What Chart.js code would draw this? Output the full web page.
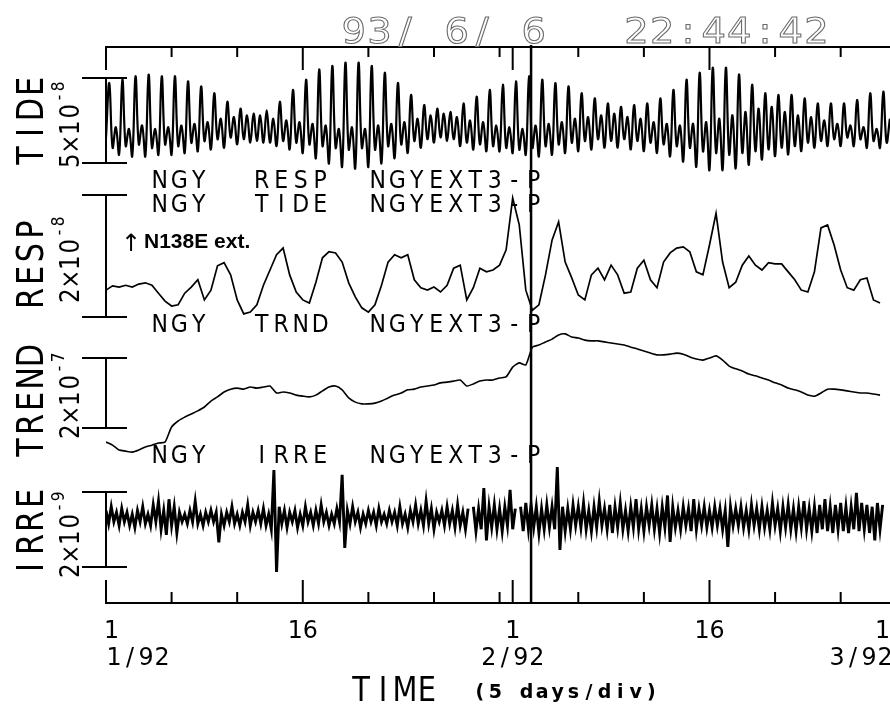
<!DOCTYPE html>
<html>
<head>
<meta charset="utf-8">
<script src="https://cdn.jsdelivr.net/npm/chart.js@4.4.1/dist/chart.umd.min.js"></script>
<style>
html, body { margin: 0; padding: 0; background: #fff; overflow: hidden; }
canvas { display: block; }
</style>
</head>
<body>
<canvas id="miGrafico" width="890" height="709"></canvas>
<script>
// tiempo en dias desde 1/1/92, 5 dias por division
const tideStep = 0.25;
const tide = [
 1.5,4.7,0.9,2.1, 0.5,4.9,1.0,2.0, 0.4,5.1,1.1,2.2, 0.4,5.2,0.9,2.0, 0.5,5.1,1.1,2.1,
 0.5,5.1,1.0,2.2, 0.6,4.8,1.2,2.3, 0.7,4.5,1.3,2.4, 0.8,4.1,1.4,2.6, 0.9,3.6,1.5,2.7,
 1.1,3.2,1.4,2.8, 1.2,2.9,1.3,2.8, 1.2,3.1,1.2,2.6, 1.0,3.6,1.3,2.5, 0.8,4.3,1.2,2.4,
 0.6,4.9,1.1,2.3, 0.3,5.5,1.0,2.2, 0.0,5.7,0.9,2.0, -0.2,5.9,0.8,2.1, -0.3,5.9,0.9,2.0,
 -0.2,5.7,0.8,2.2, 0.0,5.3,1.0,2.3, 0.3,4.7,1.1,2.4, 0.6,4.0,1.3,2.6, 0.9,3.4,1.4,2.8,
 1.2,3.2,1.5,2.9, 1.3,3.0,1.4,2.7, 1.0,3.5,1.2,2.5, 0.8,3.9,1.1,2.4, 0.7,4.3,1.0,2.2,
 0.7,4.6,0.9,2.1, 0.6,4.8,0.8,2.0, 0.5,5.1,0.9,2.2, 0.4,4.9,1.0,2.3, 0.5,4.7,1.1,2.4,
 0.6,4.5,1.2,2.6, 0.7,4.1,1.3,2.7, 0.8,3.8,1.4,2.8, 0.9,3.5,1.3,2.9, 0.9,3.3,1.4,2.7,
 0.8,3.4,1.3,2.6, 0.7,3.5,1.2,2.4, 0.6,3.8,1.1,2.3, 0.4,4.3,1.0,2.2, 0.1,4.9,0.9,2.3,
 -0.2,5.3,0.7,2.4, -0.4,5.6,0.6,2.6, -0.4,5.6,0.5,2.8, -0.3,5.2,0.6,3.0, -0.1,4.6,0.7,3.2,
 0.2,4.1,0.8,3.3, 0.4,4.0,0.9,3.0, 0.5,4.0,1.0,2.8, 0.7,3.8,1.2,2.7, 0.9,3.5,1.3,2.5,
 1.0,3.5,1.4,2.3, 1.0,3.5,1.5,2.2, 1.0,3.7,1.4,2.1, 0.9,4.1,1.3,2.0, 0.9,4.2,1.2,2.6
];

const respStep = 0.5;
const resp = [
 0.44,0.51,0.49,0.52,0.49,0.54,0.56,0.52,0.39,0.26,
 0.18,0.20,0.39,0.49,0.61,0.28,0.44,0.84,0.89,0.69,
 0.28,0.05,0.08,0.20,0.52,0.77,1.02,1.13,0.69,0.41,
 0.28,0.23,0.57,0.97,1.07,1.05,0.90,0.56,0.33,0.15,
 0.08,0.20,0.52,0.90,1.02,0.97,1.02,0.61,0.48,0.44,
 0.49,0.41,0.52,0.80,0.85,0.28,0.48,0.80,0.74,0.77,
 0.85,1.10,1.95,1.51,0.44,0.11,0.20,0.69,1.26,1.56,
 0.90,0.64,0.36,0.28,0.69,0.80,0.61,0.85,0.69,0.39,
 0.41,0.80,0.93,0.61,0.48,0.90,1.05,1.13,1.15,1.07,
 0.74,0.69,1.18,1.70,0.90,0.48,0.57,0.85,1.00,0.85,
 0.77,0.89,0.87,0.87,0.74,0.61,0.44,0.41,0.74,1.46,
 1.51,1.18,0.77,0.48,0.44,0.61,0.64,0.28,0.23,null
];

const trendStep = 0.5;
const trend = [
 -0.40,-0.49,-0.63,-0.66,-0.69,-0.63,-0.54,-0.49,-0.43,-0.40,
 0.03,0.20,0.31,0.40,0.49,0.60,0.77,0.89,1.03,1.11,
 1.14,1.11,1.17,1.14,1.17,1.20,1.00,1.03,1.00,0.94,
 0.91,0.89,0.94,1.06,1.17,1.20,1.09,0.86,0.74,0.69,
 0.69,0.71,0.77,0.86,0.94,1.00,1.09,1.11,1.17,1.20,
 1.23,1.29,1.31,1.34,1.37,1.20,1.26,1.34,1.37,1.37,
 1.43,1.46,1.74,1.86,1.80,2.31,2.37,2.46,2.54,2.66,
 2.69,2.60,2.57,2.51,2.49,2.49,2.46,2.43,2.40,2.37,
 2.31,2.26,2.20,2.14,2.09,2.09,2.11,2.14,2.11,2.03,
 1.97,1.94,2.00,2.06,1.94,1.77,1.69,1.63,1.54,1.49,
 1.43,1.37,1.29,1.23,1.14,1.09,1.03,0.94,0.91,1.00,
 1.11,1.11,1.09,1.06,1.03,1.00,1.00,0.97,0.94,null
];

const irreStep = 0.2;
const irre = [
 0.2,-0.15,0.3,-0.1,0.15,-0.2,0.25,-0.1,0.15,-0.2,
 0.1,-0.25,0.2,-0.1,0.3,-0.15,0.1,-0.2,0.35,-0.1,
 0.45,-0.3,0.2,-0.45,0.5,-0.2,0.3,-0.4,0.15,-0.1,
 0.1,-0.15,0.2,-0.1,0.45,-0.15,0.1,-0.2,0.15,-0.1,
 0.2,-0.1,0.15,-0.65,0.1,-0.2,0.15,-0.1,0.3,-0.15,
 0.1,-0.2,0.15,-0.1,0.35,-0.2,0.15,-0.1,0.2,-0.15,
 0.25,-0.2,0.1,-0.3,1.28,-1.44,0.3,-0.15,0.2,-0.25,
 0.15,-0.1,0.2,-0.25,0.1,-0.2,0.3,-0.1,0.15,-0.2,
 0.2,-0.15,0.35,-0.1,0.15,-0.2,0.1,-0.15,0.25,-0.1,
 1.15,-0.8,0.2,-0.15,0.3,-0.1,0.15,-0.25,0.1,-0.15,
 0.2,-0.1,0.15,-0.2,0.25,-0.1,0.1,-0.15,0.2,-0.1,
 0.15,-0.2,0.3,-0.15,0.1,-0.25,0.2,-0.1,0.35,-0.15,
 0.2,-0.2,0.45,-0.15,0.25,-0.3,0.15,-0.1,0.2,-0.2,
 0.3,-0.15,0.2,-0.25,0.35,-0.2,0.15,-0.3,0.25,null,
 0.3,-0.35,0.25,-0.3,0.8,-0.6,0.3,-0.25,0.35,-0.3,
 0.25,-0.35,0.3,-0.2,0.75,-0.3,0.25,null,0.3,-0.35,
 0.4,-0.3,0.35,-0.25,0.3,-0.4,0.25,-0.3,0.35,-0.25,
 0.3,-0.3,1.36,-0.85,0.3,-0.35,0.25,-0.3,0.35,-0.2,
 0.3,-0.25,0.4,-0.3,0.2,-0.35,0.3,-0.25,0.45,-0.2,
 0.25,-0.3,0.35,-0.4,0.3,-0.25,0.4,-0.3,0.2,-0.35,
 0.3,-0.25,0.5,-0.3,0.25,-0.35,0.3,-0.2,0.35,-0.3,
 0.25,-0.4,0.3,-0.25,0.6,-0.64,0.3,-0.25,0.2,-0.3,
 0.3,-0.2,0.25,-0.35,0.5,-0.3,0.25,-0.2,0.3,-0.25,
 0.2,-0.25,0.3,-0.2,0.25,-0.3,0.2,-0.77,0.3,-0.2,
 0.25,-0.2,0.3,-0.25,0.2,-0.3,0.35,-0.2,0.25,-0.3,
 0.3,-0.25,0.2,-0.3,0.4,-0.2,0.25,-0.35,0.3,-0.25,
 0.35,-0.3,0.25,-0.35,0.3,-0.25,0.45,-0.3,0.25,-0.35,
 0.3,-0.4,0.35,-0.3,0.5,-0.35,0.3,-0.4,0.35,-0.3,
 0.4,-0.35,0.3,-0.4,0.3,-0.3,0.67,-0.35,0.4,-0.3,
 0.35,-0.4,0.3,-0.6,0.4,-0.3,0.35,null,null,null
];

// marcas del eje de tiempo
const shortTicks = [5, 10, 20, 25, 30, 36, 41, 51, 56];
const longTicks = [0, 15, 31, 46, 60];
const dayText = ['1', '16', '1', '16', '1'];
const monthDays = [0, 31, 60];
const monthText = ['1/92', '2/92', '3/92'];
const eventDay = 32.4;

const panelNames = ['TIDE', 'RESP', 'TREND', 'IRRE'];
const scaleText = ['5\u00d710', '2\u00d710', '2\u00d710', '2\u00d710'];
const scaleExp = ['-8', '-8', '-7', '-9'];
const stationRows = ['RESP', 'TIDE', 'TRND', 'IRRE'];

function toPoints(arr, step) {
  return arr.map((v, i) => ({ x: i * step, y: v }));
}

const FONT = "'DejaVu Sans', sans-serif";

function spaced(ctx, str, x, y, pitch, font, squeeze, hollow) {
  ctx.save();
  ctx.font = font;
  ctx.textAlign = 'center';
  ctx.textBaseline = 'alphabetic';
  for (let i = 0; i < str.length; i++) {
    if (str[i] === ' ') continue;
    ctx.save();
    ctx.translate(x + (i + 0.5) * pitch, y);
    ctx.scale(squeeze, 1);
    if (hollow) ctx.strokeText(str[i], 0, 0); else ctx.fillText(str[i], 0, 0);
    ctx.restore();
  }
  ctx.restore();
}

function line(ctx, x1, y1, x2, y2) {
  ctx.beginPath(); ctx.moveTo(x1, y1); ctx.lineTo(x2, y2); ctx.stroke();
}

const plotterDecor = {
  id: 'plotterDecor',
  afterDatasetsDraw(chart) {
    const ctx = chart.ctx;
    const xs = chart.scales.x;
    const a = chart.chartArea;
    ctx.save();
    ctx.strokeStyle = '#000';
    ctx.fillStyle = '#000';
    ctx.lineWidth = 2;
    ctx.lineCap = 'butt';

    // ejes de tiempo arriba y abajo, marcas hacia adentro
    line(ctx, xs.getPixelForValue(0) - 1, a.top, a.right, a.top);
    line(ctx, xs.getPixelForValue(0) - 1, a.bottom, a.right, a.bottom);
    shortTicks.forEach(d => {
      const px = xs.getPixelForValue(d);
      line(ctx, px, a.top, px, a.top + 10);
      line(ctx, px, a.bottom, px, a.bottom - 11);
    });
    longTicks.forEach(d => {
      const px = xs.getPixelForValue(d);
      line(ctx, px, a.top, px, a.top + 23);
      line(ctx, px, a.bottom, px, a.bottom - 23);
    });

    // linea del evento
    ctx.lineWidth = 2.5;
    const ex = xs.getPixelForValue(eventDay);
    line(ctx, ex, a.top - 2, ex, a.bottom);

    // barras de escala
    ctx.lineWidth = 2;
    const bars = [['yTide', 0, 5], ['yResp', 0, 2], ['yTrend', 0, 2], ['yIrre', -1.307, 0.693]];
    const x0 = xs.getPixelForValue(0);
    bars.forEach(b => {
      const ys = chart.scales[b[0]];
      const lo = ys.getPixelForValue(b[1]);
      const hi = ys.getPixelForValue(b[2]);
      line(ctx, x0, lo, x0, hi);
      line(ctx, x0 - 24, lo, x0 + 21, lo);
      line(ctx, x0 - 24, hi, x0 + 21, hi);
    });

    // nombres de paneles, rotados
    const nameBase = [167, 310, 459, 579];
    const scaleBase = [169, 304, 440, 579];
    panelNames.forEach((n, i) => {
      ctx.save();
      ctx.translate(43, nameBase[i]);
      ctx.rotate(-Math.PI / 2);
      spaced(ctx, n, 0, 0, 23, '37px ' + FONT, 0.82);
      ctx.restore();
      ctx.save();
      ctx.translate(79, scaleBase[i]);
      ctx.rotate(-Math.PI / 2);
      spaced(ctx, scaleText[i], 0, 0, 16.5, '27px ' + FONT, 0.85);
      spaced(ctx, scaleExp[i], 66, -15, 11, '18px ' + FONT, 0.85);
      ctx.restore();
    });

    // renglones de estacion
    const rowBase = [188, 212, 332, 463];
    stationRows.forEach((w, i) => {
      spaced(ctx, 'NGY', 150, rowBase[i], 19.5, '25px ' + FONT, 0.88);
      spaced(ctx, w, 252, rowBase[i], 19.5, '25px ' + FONT, 0.88);
      spaced(ctx, 'NGYEXT3-P', 368, rowBase[i], 19.5, '25px ' + FONT, 0.88);
    });

    // nota
    ctx.font = '24px ' + FONT;
    ctx.textAlign = 'left';
    ctx.fillText('\u2191', 121, 251);
    ctx.font = 'bold 21px "Liberation Sans", Arial, sans-serif';
    ctx.fillText('N138E ext.', 144, 248);

    // etiquetas de tiempo
    longTicks.forEach((d, i) => {
      let px = xs.getPixelForValue(d);
      const w = dayText[i].length * 15;
      px = Math.max(px, 104 + w / 2);
      px = Math.min(px, 890 - w / 2);
      spaced(ctx, dayText[i], px - w / 2, 638, 15, '25px ' + FONT, 0.95);
    });
    monthDays.forEach((d, i) => {
      let px = xs.getPixelForValue(d) - 32;
      px = Math.max(px, 106);
      px = Math.min(px, 893 - 64);
      spaced(ctx, monthText[i], px, 665, 16, '25px ' + FONT, 0.95);
    });
    spaced(ctx, 'TIME', 350, 701, 22, '34px ' + FONT, 0.85);
    spaced(ctx, '(5 days/div)', 472, 698, 15.6, 'bold 20px ' + FONT, 0.95);

    // encabezado gris hueco
    ctx.strokeStyle = '#6a6a6a';
    ctx.lineWidth = 1;
    spaced(ctx, '93/ 6/ 6   22:44:42', 341, 43, 25.7, '35px ' + FONT, 1.1, true);
    ctx.restore();
  }
};

const ctx = document.getElementById('miGrafico').getContext('2d');

const chart = new Chart(ctx, {
  type: 'line',
  data: {
    datasets: [{
      label: 'TIDE',
      data: toPoints(tide, tideStep),
      yAxisID: 'yTide',
      borderColor: '#000',
      borderWidth: 2.2,
      tension: 0.4
    }, {
      label: 'RESP',
      data: toPoints(resp, respStep),
      yAxisID: 'yResp',
      borderColor: '#000',
      borderWidth: 1.7,
      tension: 0
    }, {
      label: 'TREND',
      data: toPoints(trend, trendStep),
      yAxisID: 'yTrend',
      borderColor: '#000',
      borderWidth: 1.6,
      tension: 0.2
    }, {
      label: 'IRRE',
      data: toPoints(irre, irreStep),
      yAxisID: 'yIrre',
      borderColor: '#000',
      borderWidth: 2.9,
      borderJoinStyle: 'miter',
      tension: 0
    }]
  },
  options: {
    responsive: false,
    animation: false,
    devicePixelRatio: 1,
    spanGaps: false,
    elements: { point: { radius: 0 } },
    layout: { padding: { left: 106, top: 47, right: 0, bottom: 106 } },
    scales: {
      x: { type: 'linear', min: 0, max: 59.76, display: false },
      yTide: { type: 'linear', min: -25.88, max: 6.82, display: false },
      yResp: { type: 'linear', min: -4.689, max: 4.426, display: false },
      yTrend: { type: 'linear', min: -5.0, max: 10.886, display: false },
      yIrre: { type: 'linear', min: -2.267, max: 12.56, display: false }
    },
    plugins: { legend: { display: false }, tooltip: { enabled: false } }
  },
  plugins: [plotterDecor]
});
</script>
</body>
</html>
